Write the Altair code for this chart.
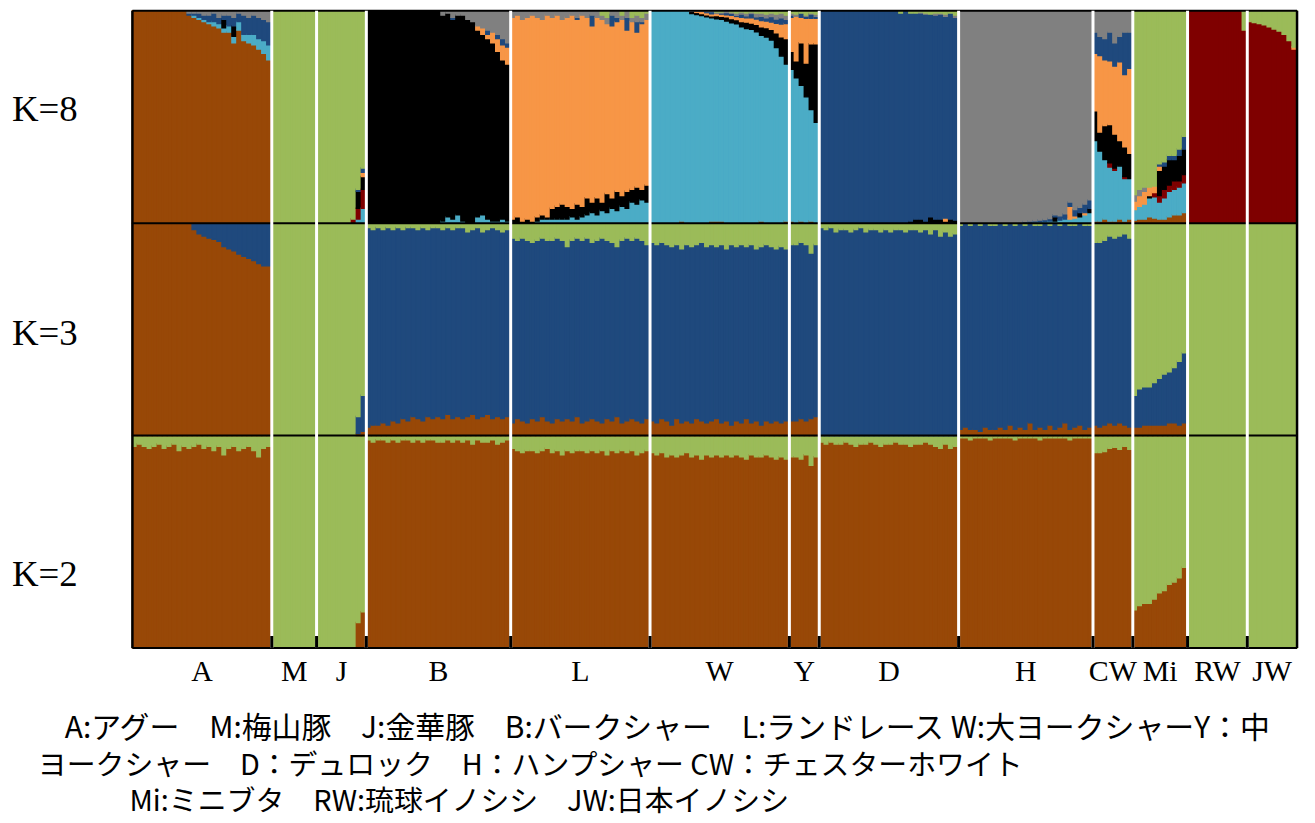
import altair as alt
import pandas as pd

# ---------------- populations ----------------
POPS = ["A", "M", "J", "B", "L", "W", "Y", "D", "H", "CW", "Mi", "RW", "JW"]
N_IND = [28, 9, 10, 29, 28, 28, 6, 28, 27, 8, 11, 12, 10]

CLUSTERS = ["brown", "lblue", "darkred", "black", "orange", "navy", "gray", "green"]
COLORS = ["#984807", "#4BACC6", "#7F0000", "#000000", "#F79646", "#1F497D", "#808080", "#9BBB59"]

ROW_LABELS = ["K=8", "K=3", "K=2"]
LEGEND_LINES = [
    "A:アグー　M:梅山豚　J:金華豚　B:バークシャー　L:ランドレース W:大ヨークシャーY：中",
    "ヨークシャー　D：デュロック　H：ハンプシャー CW：チェスターホワイト",
    "Mi:ミニブタ　RW:琉球イノシシ　JW:日本イノシシ",
]

# ---------------- A (Agu) ----------------
A_k2_green = [0.05,0.04,0.05,0.06,0.05,0.04,0.06,0.05,0.04,0.07,0.05,0.06,0.05,0.04,0.06,0.05,0.07,0.05,0.09,0.06,0.05,0.07,0.06,0.05,0.07,0.10,0.06,0.05]
A_k3_navy = [0,0,0,0,0,0,0,0,0,0,0,0,0.03,0.05,0.06,0.07,0.075,0.085,0.11,0.12,0.13,0.145,0.155,0.165,0.175,0.19,0.20,0.20]
A_k8_lblue = [0,0,0,0,0,0,0,0,0,0,0,0,0.01,0.01,0.01,0.01,0.02,0.02,0.02,0.03,0.03,0.04,0.03,0.04,0.05,0.05,0.06,0.07]
A_k8_black = [0,0,0,0,0,0,0,0,0,0,0,0,0,0,0,0,0,0,0.04,0,0.05,0,0,0,0,0,0,0]
A_k8_navy = [0,0,0,0,0,0,0,0,0,0,0,0.01,0.01,0.02,0.02,0.03,0.04,0.03,0.02,0.05,0.04,0.04,0.09,0.08,0.09,0.10,0.10,0.11]
A_k8_gray = [0,0,0,0,0,0,0,0,0,0,0,0.01,0.01,0.01,0.02,0.02,0.01,0.03,0.02,0.02,0.03,0.01,0.02,0.03,0.02,0.03,0.04,0.05]

# ---------------- J (Jinhua) ----------------
J_k2_brown = [0,0,0,0,0,0,0,0,0.12,0.17]
J_k3_navy = [0,0,0,0,0,0,0,0,0.08,0.17]
J_k3_brown = [0,0,0,0,0,0,0,0,0.01,0.02]
J_k8_lblue = [0,0,0,0,0,0,0,0,0.02,0.07]
J_k8_darkred = [0,0,0,0,0,0,0,0.02,0.05,0.09]
J_k8_black = [0,0,0,0,0,0,0,0,0.08,0.06]
J_k8_orange = [0,0,0,0,0,0,0,0,0,0.02]
J_k8_navy = [0,0,0,0,0,0,0,0,0.01,0.02]

# ---------------- B (Berkshire) ----------------
B_k2_green = [0.02,0.03,0.02,0.02,0.03,0.02,0.03,0.02,0.02,0.03,0.02,0.03,0.02,0.02,0.03,0.03,0.02,0.03,0.02,0.03,0.02,0.04,0.02,0.03,0.03,0.02,0.04,0.03,0.02]
B_k3_brown = [0.04,0.05,0.05,0.06,0.05,0.07,0.06,0.08,0.07,0.09,0.08,0.07,0.09,0.08,0.09,0.08,0.10,0.08,0.09,0.08,0.09,0.10,0.08,0.09,0.10,0.08,0.09,0.08,0.09]
B_k3_green = [0.02,0.03,0.02,0.03,0.02,0.03,0.02,0.03,0.02,0.02,0.03,0.02,0.03,0.02,0.02,0.03,0.02,0.03,0.02,0.02,0.04,0.03,0.02,0.04,0.03,0.02,0.03,0.04,0.03]
B_k8_lblue = [0,0,0,0,0,0,0,0,0,0,0,0,0,0,0,0.01,0.03,0.02,0.04,0.01,0,0,0.03,0.04,0.02,0.01,0.01,0.02,0.01]
B_k8_orange = [0,0,0,0,0,0,0,0,0,0,0,0,0,0,0,0,0,0,0,0,0,0,0.02,0.03,0.02,0.05,0.06,0.07,0.08]
B_k8_navy = [0,0,0,0,0,0,0,0,0,0,0,0,0,0,0,0,0,0.01,0,0,0,0,0,0,0.02,0,0.02,0.03,0.02]
B_k8_gray = [0,0,0,0,0,0,0,0,0,0,0,0,0,0,0,0.02,0.01,0.03,0.02,0.02,0.04,0.05,0.07,0.08,0.09,0.10,0.11,0.13,0.15]

# ---------------- L (Landrace) ----------------
L_k2_green = [0.06,0.07,0.08,0.07,0.07,0.08,0.07,0.06,0.08,0.07,0.09,0.07,0.08,0.07,0.07,0.08,0.07,0.08,0.07,0.09,0.07,0.08,0.07,0.08,0.07,0.09,0.08,0.07]
L_k3_green = [0.07,0.08,0.07,0.08,0.09,0.08,0.07,0.08,0.08,0.07,0.08,0.11,0.08,0.07,0.08,0.07,0.09,0.08,0.07,0.08,0.09,0.11,0.08,0.07,0.08,0.07,0.08,0.10]
L_k3_brown = [0.06,0.08,0.07,0.06,0.08,0.07,0.09,0.07,0.06,0.08,0.07,0.08,0.07,0.09,0.06,0.07,0.08,0.07,0.06,0.08,0.07,0.09,0.06,0.07,0.08,0.07,0.06,0.08]
L_k8_lblue = [0,0,0,0,0,0.01,0.02,0.02,0.02,0.02,0.02,0.02,0.03,0.02,0.03,0.04,0.05,0.04,0.06,0.05,0.07,0.06,0.08,0.07,0.10,0.09,0.11,0.10]
L_k8_black = [0.02,0.03,0.01,0.02,0.01,0.02,0.02,0.01,0.05,0.06,0.07,0.06,0.04,0.07,0.05,0.08,0.05,0.08,0.04,0.09,0.05,0.09,0.05,0.08,0.06,0.08,0.05,0.08]
L_k8_navy = [0,0,0,0,0,0,0,0,0,0,0,0,0,0.01,0,0,0.05,0,0,0,0.05,0.02,0,0.06,0,0.05,0.01,0]
L_k8_gray = [0.03,0.02,0.04,0.03,0.02,0.03,0.04,0.02,0.03,0.02,0.04,0.03,0.02,0.03,0.02,0.03,0.02,0.03,0.02,0.03,0.02,0.03,0.02,0.03,0.02,0.03,0.02,0.03]
L_k8_green = [0,0,0,0,0,0,0,0,0,0,0,0,0,0,0,0,0,0,0.02,0.03,0,0,0.02,0,0.03,0.02,0.03,0.01]

# ---------------- W (Large White) ----------------
W_k2_green = [0.08,0.09,0.08,0.10,0.09,0.10,0.09,0.08,0.10,0.09,0.11,0.09,0.10,0.09,0.10,0.09,0.10,0.09,0.10,0.11,0.09,0.10,0.10,0.09,0.10,0.11,0.10,0.11]
W_k3_green = [0.09,0.10,0.09,0.10,0.11,0.10,0.12,0.10,0.11,0.10,0.09,0.11,0.10,0.11,0.10,0.12,0.10,0.11,0.10,0.11,0.10,0.12,0.11,0.10,0.11,0.12,0.11,0.12]
W_k3_brown = [0.07,0.06,0.08,0.07,0.05,0.08,0.06,0.07,0.06,0.08,0.07,0.06,0.07,0.08,0.06,0.07,0.05,0.07,0.06,0.08,0.06,0.07,0.05,0.07,0.06,0.07,0.06,0.07]
W_k8_brown = [0,0,0,0,0,0,0.01,0,0,0,0,0,0.01,0.01,0.01,0,0,0,0,0,0,0,0.01,0,0,0,0,0.01]
W_k8_black = [0,0,0,0,0,0,0,0,0.01,0.01,0.01,0.01,0.01,0.015,0.015,0.02,0.02,0.02,0.025,0.03,0.03,0.035,0.04,0.045,0.05,0.07,0.09,0.12]
W_k8_orange = [0,0,0,0,0,0,0,0,0,0.005,0.01,0.01,0.01,0.01,0.01,0.01,0.015,0.015,0.02,0.02,0.025,0.025,0.03,0.03,0.035,0.045,0.06,0.07]
W_k8_navy = [0,0,0,0,0,0,0,0,0,0,0,0.005,0.01,0,0.005,0.01,0.01,0.005,0.015,0.01,0.02,0.01,0.02,0.015,0.025,0.02,0.03,0.02]
W_k8_gray = [0,0,0,0,0,0,0,0,0.002,0.002,0.002,0.003,0.003,0.007,0.005,0.008,0.006,0.011,0.01,0.013,0.007,0.018,0.015,0.018,0.017,0.023,0.022,0.02]
W_k8_green = [0,0,0,0,0,0,0,0,0,0,0,0,0,0.005,0.005,0,0.005,0.01,0.005,0.01,0.005,0.01,0.01,0.015,0.01,0.015,0.01,0.02]

# ---------------- Y (Middle White) ----------------
Y_k2_green = [0.10,0.10,0.11,0.09,0.14,0.10]
Y_k3_green = [0.10,0.10,0.09,0.10,0.14,0.10]
Y_k3_brown = [0.07,0.07,0.08,0.07,0.08,0.09]
Y_k8_brown = [0.01,0,0.01,0,0.01,0]
Y_k8_black = [0.085,0.08,0.20,0.16,0.31,0.37]
Y_k8_orange = [0.16,0.21,0.12,0.21,0.12,0.12]
Y_k8_navy = [0.01,0,0.02,0.01,0.02,0.01]
Y_k8_gray = [0.01,0.01,0,0.005,0.005,0.01]
Y_k8_green = [0.01,0.015,0.01,0.02,0.01,0.015]

# ---------------- D (Duroc) ----------------
D_k2_green = [0.03,0.04,0.03,0.04,0.04,0.03,0.04,0.05,0.04,0.04,0.03,0.04,0.05,0.04,0.04,0.03,0.04,0.04,0.05,0.04,0.04,0.03,0.04,0.05,0.06,0.04,0.06,0.05]
D_k3_green = [0.02,0.03,0.02,0.04,0.03,0.03,0.04,0.03,0.02,0.04,0.03,0.03,0.04,0.03,0.04,0.03,0.03,0.04,0.03,0.03,0.04,0.03,0.05,0.03,0.06,0.04,0.06,0.05]
D_k8_black = [0,0,0,0,0,0,0,0,0,0,0,0,0,0,0,0,0,0,0.01,0.02,0.02,0.01,0.03,0.02,0.02,0.01,0.02,0.015]
D_k8_orange = [0,0,0,0,0,0,0,0,0,0,0,0,0,0,0,0,0,0,0,0,0,0,0,0,0,0.015,0,0]
D_k8_gray = [0,0,0,0,0,0,0,0,0,0,0,0,0,0,0,0,0,0,0,0,0.005,0.005,0,0.01,0.005,0.01,0,0.01]
D_k8_green = [0,0,0,0,0,0,0,0,0,0,0,0,0,0,0,0,0.01,0,0.01,0.01,0.005,0.01,0.015,0.01,0.01,0.015,0.01,0.02]

# ---------------- H (Hampshire) ----------------
H_k2_green = [0.01,0.01,0.02,0.01,0.01,0.01,0.02,0.01,0.01,0.01,0.01,0.02,0.01,0.01,0.01,0.01,0.02,0.01,0.01,0.01,0.01,0.01,0.02,0.01,0.01,0.01,0.01]
H_k3_brown = [0.03,0.04,0.03,0.03,0.02,0.04,0.03,0.03,0.04,0.03,0.05,0.03,0.04,0.03,0.06,0.03,0.04,0.03,0.05,0.03,0.04,0.06,0.03,0.04,0.05,0.03,0.04]
H_k3_green = [0.01,0,0.01,0,0.01,0,0.01,0.01,0,0.01,0,0.01,0,0.01,0,0.01,0.01,0,0.01,0,0.01,0,0.01,0.01,0,0.01,0.01]
H_k8_lblue = [0,0,0,0,0,0,0,0,0,0,0,0,0.004,0.004,0.005,0.006,0.007,0.008,0.01,0.01,0.015,0.02,0.02,0.025,0.03,0.04,0.05]
H_k8_navy = [0,0,0,0,0,0,0,0,0,0,0,0,0,0.004,0.005,0.006,0.008,0.009,0.012,0.01,0.02,0.025,0.02,0.03,0.025,0.04,0.04]
H_k8_black = [0,0,0,0,0,0,0,0,0,0,0,0,0,0,0,0,0,0,0,0.02,0,0,0,0,0.02,0,0.02]
H_k8_orange = [0,0,0,0,0,0,0,0,0,0,0,0,0,0,0,0,0,0,0,0,0,0,0.06,0.01,0,0.01,0]

# ---------------- CW (Chester White) ----------------
CW_k2_green = [0.08,0.08,0.075,0.06,0.055,0.065,0.05,0.065]
CW_k3_green = [0.09,0.09,0.08,0.06,0.07,0.06,0.05,0.07]
CW_k3_brown = [0.05,0.04,0.05,0.06,0.05,0.06,0.05,0.04]
CW_k8_brown = [0.01,0.01,0.02,0.01,0.01,0.02,0.01,0.02]
CW_k8_darkred = [0,0,0,0.02,0.01,0,0.01,0]
CW_k8_black = [0.14,0.09,0.16,0.18,0.16,0.12,0.14,0.12]
CW_k8_orange = [0.27,0.36,0.31,0.30,0.32,0.37,0.34,0.40]
CW_k8_navy = [0.10,0.09,0.10,0.135,0.11,0.12,0.20,0.17]
CW_k8_gray = [0.10,0.12,0.13,0.10,0.15,0.12,0.10,0.10]

# ---------------- Mi (mini pig) ----------------
Mi_k2_brown = [0.18,0.20,0.21,0.21,0.23,0.26,0.27,0.30,0.31,0.33,0.38]
Mi_k3_brown = [0.04,0.04,0.05,0.05,0.05,0.05,0.05,0.06,0.06,0.05,0.06]
Mi_k3_navy = [0.15,0.18,0.18,0.18,0.20,0.22,0.24,0.24,0.26,0.30,0.33]
Mi_k8_brown = [0.015,0.02,0.02,0.03,0.025,0.02,0.02,0.03,0.04,0.04,0.05]
Mi_k8_lblue = [0.05,0.06,0.07,0.09,0.10,0.08,0.10,0.12,0.12,0.13,0.14]
Mi_k8_darkred = [0,0,0,0,0.02,0.03,0.04,0.03,0.04,0.03,0.04]
Mi_k8_black = [0,0,0,0.01,0,0.12,0.11,0.12,0.10,0.12,0.12]
Mi_k8_orange = [0.04,0.05,0.06,0.04,0.03,0.02,0,0,0,0,0]
Mi_k8_navy = [0,0,0,0,0,0.01,0.02,0.02,0.02,0.03,0.06]
Mi_k8_gray = [0.03,0.03,0.02,0,0,0,0,0,0,0,0]

# ---------------- RW / JW (wild boars) ----------------
RW_k8_green = [0,0,0,0,0,0,0,0,0,0,0,0.09]
JW_k8_green = [0.05,0.055,0.06,0.065,0.075,0.085,0.095,0.11,0.14,0.17]
JW_k8_orange = [0,0,0,0,0,0,0,0,0,0.01]

# (dominant cluster, minor components) per population and K
K2_SPEC = {
    "A": ("brown", {"green": A_k2_green}), "M": ("green", {}), "J": ("green", {"brown": J_k2_brown}),
    "B": ("brown", {"green": B_k2_green}), "L": ("brown", {"green": L_k2_green}),
    "W": ("brown", {"green": W_k2_green}), "Y": ("brown", {"green": Y_k2_green}),
    "D": ("brown", {"green": D_k2_green}), "H": ("brown", {"green": H_k2_green}),
    "CW": ("brown", {"green": CW_k2_green}), "Mi": ("green", {"brown": Mi_k2_brown}),
    "RW": ("green", {}), "JW": ("green", {}),
}
K3_SPEC = {
    "A": ("brown", {"navy": A_k3_navy}), "M": ("green", {}),
    "J": ("green", {"navy": J_k3_navy, "brown": J_k3_brown}),
    "B": ("navy", {"brown": B_k3_brown, "green": B_k3_green}),
    "L": ("navy", {"brown": L_k3_brown, "green": L_k3_green}),
    "W": ("navy", {"brown": W_k3_brown, "green": W_k3_green}),
    "Y": ("navy", {"brown": Y_k3_brown, "green": Y_k3_green}),
    "D": ("navy", {"green": D_k3_green}),
    "H": ("navy", {"brown": H_k3_brown, "green": H_k3_green}),
    "CW": ("navy", {"brown": CW_k3_brown, "green": CW_k3_green}),
    "Mi": ("green", {"brown": Mi_k3_brown, "navy": Mi_k3_navy}),
    "RW": ("green", {}), "JW": ("green", {}),
}
K8_SPEC = {
    "A": ("brown", {"lblue": A_k8_lblue, "black": A_k8_black, "navy": A_k8_navy, "gray": A_k8_gray}),
    "M": ("green", {}),
    "J": ("green", {"lblue": J_k8_lblue, "darkred": J_k8_darkred, "black": J_k8_black,
                    "orange": J_k8_orange, "navy": J_k8_navy}),
    "B": ("black", {"lblue": B_k8_lblue, "orange": B_k8_orange, "navy": B_k8_navy, "gray": B_k8_gray}),
    "L": ("orange", {"lblue": L_k8_lblue, "black": L_k8_black, "navy": L_k8_navy,
                     "gray": L_k8_gray, "green": L_k8_green}),
    "W": ("lblue", {"brown": W_k8_brown, "black": W_k8_black, "orange": W_k8_orange,
                    "navy": W_k8_navy, "gray": W_k8_gray, "green": W_k8_green}),
    "Y": ("lblue", {"brown": Y_k8_brown, "black": Y_k8_black, "orange": Y_k8_orange,
                    "navy": Y_k8_navy, "gray": Y_k8_gray, "green": Y_k8_green}),
    "D": ("navy", {"black": D_k8_black, "orange": D_k8_orange, "gray": D_k8_gray, "green": D_k8_green}),
    "H": ("gray", {"lblue": H_k8_lblue, "navy": H_k8_navy, "black": H_k8_black, "orange": H_k8_orange}),
    "CW": ("lblue", {"brown": CW_k8_brown, "darkred": CW_k8_darkred, "black": CW_k8_black,
                     "orange": CW_k8_orange, "navy": CW_k8_navy, "gray": CW_k8_gray}),
    "Mi": ("green", {"brown": Mi_k8_brown, "lblue": Mi_k8_lblue, "darkred": Mi_k8_darkred,
                     "black": Mi_k8_black, "orange": Mi_k8_orange, "navy": Mi_k8_navy, "gray": Mi_k8_gray}),
    "RW": ("darkred", {"green": RW_k8_green}),
    "JW": ("darkred", {"orange": JW_k8_orange, "green": JW_k8_green}),
}

# ---------------- build tables ----------------
TOTAL = sum(N_IND)
rows = []
start = 0
pop_rows = []
bounds = []
for pop, n in zip(POPS, N_IND):
    for row_off, spec in ((0, K2_SPEC), (1, K3_SPEC), (2, K8_SPEC)):
        dom, minors = spec[pop]
        for lst in minors.values():
            assert len(lst) == n, (pop, row_off, len(lst), n)
        for i in range(n):
            vals = {c: lst[i] for c, lst in minors.items()}
            vals[dom] = max(0.0, 1.0 - sum(vals.values()))
            cum = 0.0
            for c in CLUSTERS:
                v = vals.get(c, 0)
                if v > 0:
                    rows.append({"x": start + i, "x2": start + i + 1,
                                 "y": row_off + cum, "y2": row_off + cum + v, "cluster": c})
                    cum += v
    pop_rows.append({"pop": pop, "cx": start + n / 2})
    start += n
    if start < TOTAL:
        bounds.append(start)

df = pd.DataFrame(rows)
pop_df = pd.DataFrame(pop_rows)
bound_df = pd.DataFrame({"bx": bounds})
hline_df = pd.DataFrame({"hy": [0, 1, 2, 3]})
vline_df = pd.DataFrame({"vx": [0, TOTAL]})

W_PX, H_PX = 1170, 640
xs = alt.Scale(domain=[0, TOTAL], nice=False, zero=False)
ys = alt.Scale(domain=[0, 3], nice=False, zero=False)
cscale = alt.Scale(domain=CLUSTERS, range=COLORS)

bars = alt.Chart(df).mark_rect(strokeWidth=1.5).encode(
    x=alt.X("x:Q", scale=xs, axis=None), x2="x2:Q",
    y=alt.Y("y:Q", scale=ys, axis=None), y2="y2:Q",
    color=alt.Color("cluster:N", scale=cscale, legend=None),
    stroke=alt.Stroke("cluster:N", scale=cscale, legend=None),
)

hlines = alt.Chart(hline_df).mark_rule(color="black", strokeWidth=2).encode(
    y=alt.Y("hy:Q", scale=ys, axis=None), x=alt.value(0), x2=alt.value(W_PX))

seps = alt.Chart(bound_df).mark_rule(color="white", strokeWidth=3).encode(
    x=alt.X("bx:Q", scale=xs, axis=None), y=alt.value(0), y2=alt.value(H_PX))

stubs = alt.Chart(bound_df).mark_rule(color="black", strokeWidth=3).encode(
    x=alt.X("bx:Q", scale=xs, axis=None), y=alt.value(H_PX - 12), y2=alt.value(H_PX))

frame = alt.Chart(vline_df).mark_rule(color="black", strokeWidth=2.5).encode(
    x=alt.X("vx:Q", scale=xs, axis=None), y=alt.value(0), y2=alt.value(H_PX))

pop_labels = alt.Chart(pop_df).mark_text(
    font="Liberation Serif", fontSize=30, baseline="middle", align="center",
    color="black").encode(x=alt.X("cx:Q", scale=xs, axis=None), y=alt.value(664), text="pop:N")


def txt(s, px, py, font, size, align="left"):
    return alt.Chart(pd.DataFrame({"t": [s]})).mark_text(
        font=font, fontSize=size, align=align, baseline="middle", color="black"
    ).encode(text="t:N", x=alt.value(px), y=alt.value(py))


row_layers = [txt(lab, -121, py, "Liberation Serif", 37)
              for lab, py in zip(ROW_LABELS, [100, 325, 567])]
legend_layers = [txt(s, px, py, "Noto Sans CJK JP", fs)
                 for s, px, py, fs in zip(LEGEND_LINES, [-68, -95, -3], [721, 759, 795], [30, 29, 29])]

chart = alt.layer(bars, hlines, seps, stubs, frame, pop_labels, *row_layers, *legend_layers).properties(
    width=W_PX, height=H_PX,
    padding={"left": 125, "top": 1, "right": 10, "bottom": 174},
    autosize=alt.AutoSizeParams(type="none"),
).configure_view(stroke=None)

chart.save("out.html", embed_options={"renderer": "svg", "actions": False})
